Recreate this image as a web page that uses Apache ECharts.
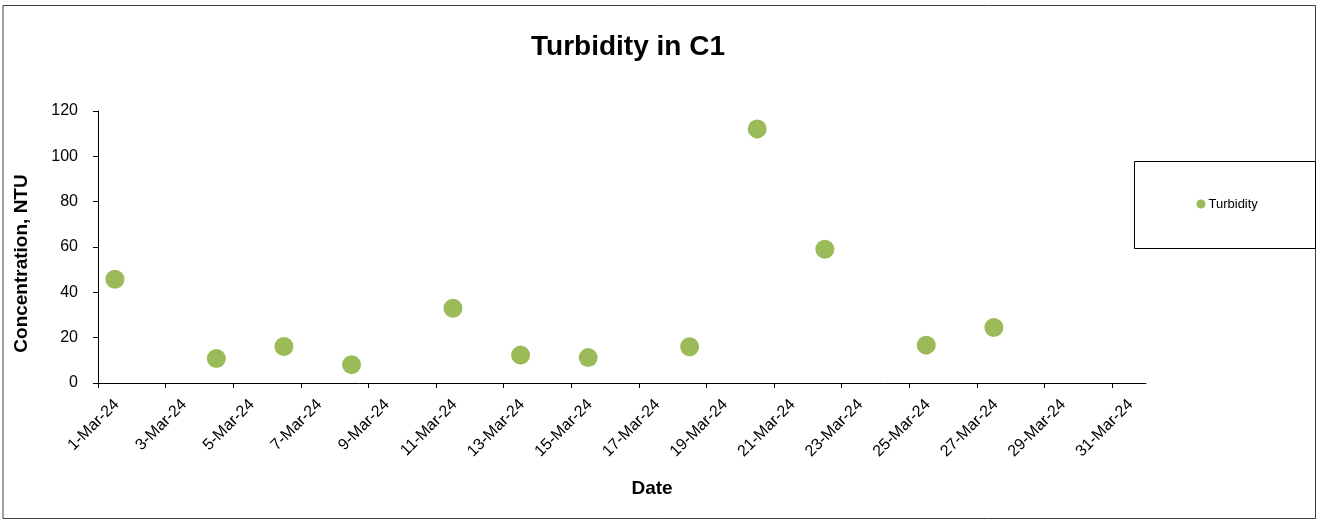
<!DOCTYPE html>
<html>
<head>
<meta charset="utf-8">
<script src="https://cdn.jsdelivr.net/npm/echarts@6/dist/echarts.min.js"></script>
<style>
html,body{margin:0;padding:0;background:#fff;}
#chart{width:1317px;height:520px;}
</style>
</head>
<body>
<div id="chart"></div>
<script>
// ---- data ----
const titleText = 'Turbidity in C1';
const seriesName = 'Turbidity';
const sampleDates = ['2024-03-01T12:00:00Z','2024-03-04T12:00:00Z','2024-03-06T12:00:00Z','2024-03-08T12:00:00Z',
  '2024-03-11T12:00:00Z','2024-03-13T12:00:00Z','2024-03-15T12:00:00Z','2024-03-18T12:00:00Z',
  '2024-03-20T12:00:00Z','2024-03-22T12:00:00Z','2024-03-25T12:00:00Z','2024-03-27T12:00:00Z'];
const turbidity = [45.8, 10.8, 16.1, 8.1, 33.0, 12.3, 11.2, 16.0, 112.1, 59.0, 16.7, 24.5];
const xTickDates = ['2024-03-01','2024-03-03','2024-03-05','2024-03-07','2024-03-09','2024-03-11','2024-03-13','2024-03-15',
  '2024-03-17','2024-03-19','2024-03-21','2024-03-23','2024-03-25','2024-03-27','2024-03-29','2024-03-31'];
const xTickLabels = ['1-Mar-24','3-Mar-24','5-Mar-24','7-Mar-24','9-Mar-24','11-Mar-24','13-Mar-24','15-Mar-24',
  '17-Mar-24','19-Mar-24','21-Mar-24','23-Mar-24','25-Mar-24','27-Mar-24','29-Mar-24','31-Mar-24'];
const xMinDate = '2024-03-01';
const xMaxDate = '2024-04-01';
const yTicks = [0, 20, 40, 60, 80, 100, 120];

// ---- build ----
const DAY = 86400000;
const ts = s => Date.parse(s.length === 10 ? s + 'T00:00:00Z' : s);
const xMin = ts(xMinDate), xMax = ts(xMaxDate);
const tickVals = xTickDates.map(ts);
const labelMap = {};
tickVals.forEach((v, i) => { labelMap[v] = xTickLabels[i]; });
const labelShift = 0.55 * DAY; // Excel-style placement of rotated labels
const points = sampleDates.map((d, i) => [ts(d), turbidity[i]]);

const font = 'Liberation Sans, Arial, sans-serif';
const chart = echarts.init(document.getElementById('chart'), null, {renderer: 'canvas'});
chart.setOption({
  animation: false,
  backgroundColor: '#fff',
  title: {
    text: titleText, left: 623, top: 28, textAlign: 'center',
    textStyle: {fontFamily: font, fontSize: 28, fontWeight: 'bold', color: '#000'}
  },
  graphic: [
    {type: 'rect', shape: {x: 3, y: 5.5, width: 1312.5, height: 513}, style: {fill: 'none', stroke: '#404040', lineWidth: 1}, z: -1},
    {type: 'rect', shape: {x: 1134.5, y: 161.5, width: 181, height: 87}, style: {fill: '#fff', stroke: '#000', lineWidth: 1}, z: 0}
  ],
  legend: {
    data: [seriesName], left: 1196.5, top: 197.5, padding: 0,
    icon: 'circle', itemWidth: 9, itemHeight: 9, itemGap: 0,
    textStyle: {fontFamily: font, fontSize: 13, color: '#000', padding: [0, 0, 0, -2]},
    z: 5
  },
  grid: {left: 98, right: 171, top: 111, bottom: 137, containLabel: false, outerBoundsMode: 'none'},
  xAxis: [{
    type: 'value', min: xMin, max: xMax,
    name: 'Date', nameLocation: 'middle', nameGap: 96,
    nameTextStyle: {fontFamily: font, fontSize: 19, fontWeight: 'bold', color: '#000', padding: [0, 0, 0, 60]},
    axisLine: {show: true, lineStyle: {color: '#000', width: 1}},
    axisTick: {show: true, inside: false, length: 5, lineStyle: {color: '#000'}, customValues: tickVals},
    axisLabel: {show: false},
    splitLine: {show: false}
  }, {
    type: 'value', min: xMin - labelShift, max: xMax - labelShift, position: 'bottom',
    axisLine: {show: false}, axisTick: {show: false}, splitLine: {show: false},
    axisLabel: {
      show: true, rotate: 45, margin: 19, customValues: tickVals,
      fontFamily: font, fontSize: 16, color: '#000',
      formatter: v => labelMap[v] || ''
    }
  }],
  yAxis: {
    type: 'value', min: yTicks[0], max: yTicks[yTicks.length - 1], interval: 20,
    name: 'Concentration, NTU', nameLocation: 'middle', nameGap: 67,
    nameTextStyle: {fontFamily: font, fontSize: 19, fontWeight: 'bold', color: '#000', padding: [0, 33, 0, 0]},
    axisLine: {show: true, lineStyle: {color: '#000', width: 1}},
    axisTick: {show: true, inside: false, length: 5, lineStyle: {color: '#000'}},
    axisLabel: {fontFamily: font, fontSize: 16, color: '#000', margin: 20},
    splitLine: {show: false}
  },
  series: [{
    name: seriesName, type: 'scatter', xAxisIndex: 0,
    data: points, symbol: 'circle', symbolSize: 19,
    itemStyle: {color: '#9BBB59', opacity: 1}
  }]
});
</script>
</body>
</html>
